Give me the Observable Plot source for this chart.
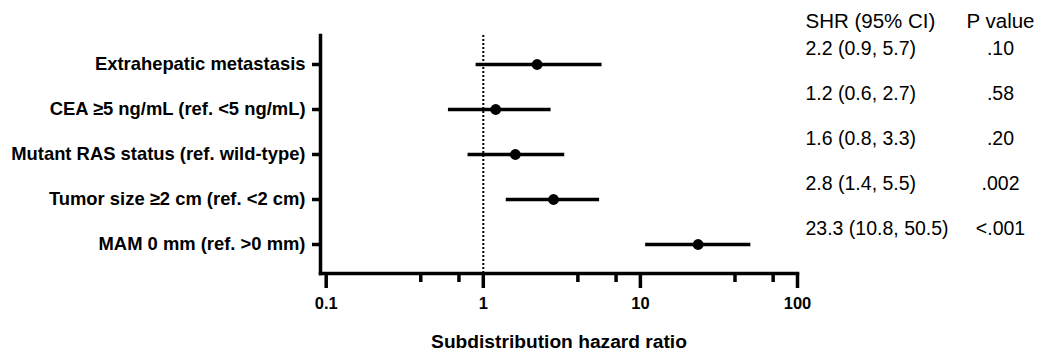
<!DOCTYPE html>
<html><head><meta charset="utf-8">
<script src="https://cdn.jsdelivr.net/npm/d3@7"></script>
<script src="https://cdn.jsdelivr.net/npm/@observablehq/plot@0.6"></script>
<style>
body{margin:0;background:#fff}
#chart svg{display:block}
#chart g[aria-label="frame"], #chart g[aria-label="frame"] *,
#chart g[aria-label="y-axis tick"], #chart g[aria-label="y-axis tick"] *,
#chart g[aria-label="x-axis tick"], #chart g[aria-label="x-axis tick"] * {stroke-width: 3.5px !important; stroke: #000 !important;}
</style>
</head><body><div id="chart"></div>
<script>
const labels = [
  "Extrahepatic metastasis",
  "CEA \u22655 ng/mL (ref. <5 ng/mL)",
  "Mutant RAS status (ref. wild-type)",
  "Tumor size \u22652 cm (ref. <2 cm)",
  "MAM 0 mm (ref. >0 mm)"
];
const shr = [2.2, 1.2, 1.6, 2.8, 23.3];
const ciLow = [0.9, 0.6, 0.8, 1.4, 10.8];
const ciHigh = [5.7, 2.7, 3.3, 5.5, 50.5];
const shrText = ["2.2 (0.9, 5.7)", "1.2 (0.6, 2.7)", "1.6 (0.8, 3.3)", "2.8 (1.4, 5.5)", "23.3 (10.8, 50.5)"];
const pText = [".10", ".58", ".20", ".002", "<.001"];
const headers = ["SHR (95% CI)", "P value"];
const majorTicks = [0.1, 1, 10, 100];
const minorTicks = [0.4, 0.7, 4, 7, 40, 70];
const xDomain = [0.092, 100];
const refLine = [1];
const xTitle = ["Subdistribution hazard ratio"];

const rows = labels.map((label, i) => ({
  label, shr: shr[i], lo: ciLow[i], hi: ciHigh[i], shrText: shrText[i], pText: pText[i]
}));

const font = "'Liberation Sans', Arial, Helvetica, sans-serif";

const chart = Plot.plot({
  width: 1039, height: 360,
  marginLeft: 320, marginRight: 242, marginTop: 35, marginBottom: 87,
  style: {fontFamily: font, color: "#000", background: "#fff", overflow: "visible"},
  x: {type: "log", domain: xDomain, axis: null},
  y: {type: "point", domain: labels, padding: 0.633, axis: null},
  marks: [
    Plot.ruleX(refLine, {strokeWidth: 2, strokeDasharray: "2,2"}),
    Plot.ruleY(rows, {y: "label", x1: "lo", x2: "hi", strokeWidth: 3.5}),
    Plot.dot(rows, {x: "shr", y: "label", r: 5.4, fill: "black"}),
    Plot.frame({anchor: "left", stroke: "black", strokeWidth: 3.5}),
    Plot.frame({anchor: "bottom", stroke: "black", strokeWidth: 3.5}),
    Plot.axisY({tickSize: 8, tickPadding: 7, stroke: "black", strokeWidth: 3.5, fontSize: 18.4, fontWeight: "bold", label: null}),
    Plot.axisX(majorTicks, {tickSize: 15, tickPadding: 9, stroke: "black", strokeWidth: 3.5, fontSize: 16.5, fontWeight: "bold", label: null, tickFormat: d => String(d)}),
    Plot.axisX(minorTicks, {tickSize: 9, stroke: "black", strokeWidth: 3.5, tickFormat: () => "", label: null}),
    Plot.text(xTitle, {frameAnchor: "bottom", dy: 74, fontSize: 19.2, fontWeight: "bold"}),
    Plot.text(rows, {y: "label", text: "shrText", frameAnchor: "right", dx: 8, dy: -16, textAnchor: "start", fontSize: 19.5}),
    Plot.text(rows, {y: "label", text: "pText", frameAnchor: "right", dx: 203, dy: -16, textAnchor: "middle", fontSize: 19.5}),
    Plot.text([headers[0]], {frameAnchor: "top-right", dx: 8, dy: -14, lineAnchor: "middle", textAnchor: "start", fontSize: 20.5}),
    Plot.text([headers[1]], {frameAnchor: "top-right", dx: 203, dy: -14, lineAnchor: "middle", textAnchor: "middle", fontSize: 20.5})
  ]
});
document.getElementById("chart").append(chart);
</script>
</body></html>
